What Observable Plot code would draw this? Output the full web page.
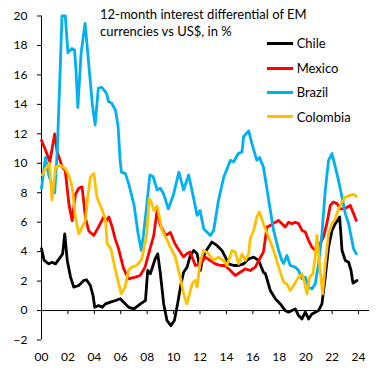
<!DOCTYPE html>
<html>
<head>
<meta charset="utf-8">
<script src="https://cdn.jsdelivr.net/npm/d3@7"></script>
<script src="https://cdn.jsdelivr.net/npm/@observablehq/plot@0.6"></script>
<style>
  body { margin: 0; background: #fff; }
  #wrap { position: relative; width: 384px; height: 375px; font-family: Lato, "Open Sans", sans-serif; color: #000; }
  #title { position: absolute; left: 100px; top: 6px; font-size: 13px; line-height: 17px; white-space: nowrap; }
  .leg { position: absolute; left: 266.7px; height: 18px; display: flex; align-items: center; font-size: 13px; white-space: nowrap; }
  .sw { display: inline-block; width: 26.6px; height: 2.8px; margin-right: 3.4px; }
</style>
</head>
<body>
<div id="wrap">
  <div id="chart"></div>
  <div id="title"></div>
  <div id="legend"></div>
</div>
<script>
const titleLines = ["12-month interest differential of EM", "currencies vs US$, in %"];
const seriesNames = ["Chile", "Mexico", "Brazil", "Colombia"];
const seriesColors = ["#000000", "#FF0000", "#00B0F0", "#FFC000"];
const xTicks = [2000, 2002, 2004, 2006, 2008, 2010, 2012, 2014, 2016, 2018, 2020, 2022, 2024];
const yTicks = [-2, 0, 2, 4, 6, 8, 10, 12, 14, 16, 18, 20];

const chile = [[2000.0,4.2],[2000.2,3.4],[2000.55,3.17],[2000.8,3.28],[2001.06,3.17],[2001.43,3.63],[2001.6,3.85],[2001.76,5.2],[2001.95,3.4],[2002.2,2.27],[2002.44,1.59],[2002.82,1.7],[2003.2,2.04],[2003.4,2.09],[2003.7,1.7],[2003.9,1.02],[2004.03,0.22],[2004.33,0.34],[2004.6,0.22],[2004.84,0.45],[2005.22,0.57],[2005.6,0.68],[2005.97,0.8],[2006.35,0.45],[2006.6,0.22],[2007.0,0.11],[2007.49,0.45],[2007.87,0.68],[2008.04,2.72],[2008.24,2.5],[2008.6,3.5],[2008.8,3.85],[2009.0,2.5],[2009.25,0.45],[2009.5,-0.68],[2009.8,-1.02],[2010.06,-0.68],[2010.3,0.45],[2010.56,1.8],[2010.76,2.6],[2011.02,2.95],[2011.27,3.74],[2011.52,4.08],[2011.78,3.85],[2012.03,2.72],[2012.16,3.4],[2012.4,3.97],[2012.9,4.65],[2013.28,4.42],[2013.66,4.08],[2013.92,3.63],[2014.17,3.17],[2014.55,3.06],[2014.92,3.06],[2015.3,3.17],[2015.68,3.5],[2016.06,3.63],[2016.44,3.4],[2016.8,2.6],[2016.95,2.5],[2017.32,1.36],[2017.7,0.8],[2018.08,0.45],[2018.45,0.0],[2018.7,-0.11],[2018.96,0.0],[2019.21,0.11],[2019.46,-0.34],[2019.72,-0.57],[2019.97,-0.11],[2020.22,-0.57],[2020.47,-0.23],[2020.73,-0.11],[2020.97,0.0],[2021.23,0.45],[2021.48,2.27],[2021.73,4.3],[2021.99,5.44],[2022.24,5.9],[2022.57,6.35],[2022.75,4.08],[2023.0,3.4],[2023.25,3.28],[2023.43,2.72],[2023.58,1.86],[2023.88,2.04]];

const mexico = [[2000.0,11.56],[2000.3,10.9],[2000.63,10.1],[2001.0,12.0],[2001.19,10.77],[2001.57,9.75],[2001.8,9.5],[2002.07,7.26],[2002.32,6.1],[2002.57,7.9],[2002.82,8.3],[2003.07,8.4],[2003.33,6.3],[2003.58,5.4],[2003.96,5.1],[2004.33,5.7],[2004.7,6.35],[2004.94,6.1],[2005.1,6.35],[2005.35,5.67],[2005.6,4.8],[2005.8,4.3],[2006.2,2.9],[2006.58,2.15],[2007.1,2.27],[2007.47,2.38],[2007.84,2.95],[2008.22,4.2],[2008.5,5.1],[2008.75,6.8],[2009.0,5.8],[2009.38,5.1],[2009.76,5.3],[2010.1,4.53],[2010.5,3.97],[2010.75,3.63],[2011.0,3.85],[2011.25,3.97],[2011.65,3.06],[2012.03,3.17],[2012.4,3.63],[2012.78,3.4],[2013.16,3.17],[2013.55,3.06],[2013.9,3.06],[2014.3,2.72],[2014.67,2.38],[2015.05,2.6],[2015.43,2.83],[2015.8,2.72],[2016.18,2.95],[2016.57,3.6],[2016.8,3.97],[2017.07,5.67],[2017.32,5.78],[2017.7,6.0],[2017.95,6.12],[2018.2,5.9],[2018.45,5.67],[2018.7,6.0],[2018.95,5.9],[2019.2,6.0],[2019.46,5.9],[2019.72,5.44],[2019.97,5.33],[2020.22,4.76],[2020.47,4.3],[2020.73,4.08],[2020.97,4.3],[2021.35,5.0],[2021.6,5.9],[2021.86,7.14],[2022.1,7.37],[2022.37,7.26],[2022.62,6.9],[2022.87,6.9],[2023.12,7.0],[2023.37,7.14],[2023.62,6.58],[2023.83,6.12]];

const brazil = [[2000.0,8.3],[2000.3,10.4],[2000.55,9.2],[2000.8,8.5],[2001.0,8.0],[2001.2,11.0],[2001.4,16.0],[2001.55,20.0],[2001.8,20.0],[2002.0,17.5],[2002.3,17.8],[2002.5,17.7],[2002.6,16.5],[2002.75,13.8],[2003.0,17.5],[2003.3,19.5],[2003.6,16.5],[2003.85,14.0],[2004.06,12.6],[2004.3,15.1],[2004.56,15.15],[2004.8,14.9],[2004.94,14.7],[2005.07,14.2],[2005.3,14.1],[2005.6,13.6],[2005.8,12.5],[2005.95,10.2],[2006.05,9.4],[2006.35,9.3],[2006.6,8.6],[2007.0,7.2],[2007.3,5.3],[2007.55,4.1],[2007.7,5.0],[2007.95,7.0],[2008.2,9.2],[2008.45,9.1],[2008.75,8.2],[2009.0,8.3],[2009.25,7.9],[2009.6,6.9],[2010.0,7.9],[2010.4,9.4],[2010.76,8.2],[2011.14,9.2],[2011.5,7.7],[2011.78,6.46],[2012.0,6.8],[2012.28,5.56],[2012.78,5.1],[2013.03,5.44],[2013.4,7.5],[2013.8,9.07],[2014.3,10.2],[2014.55,10.1],[2014.9,10.66],[2015.18,10.77],[2015.3,11.8],[2015.68,12.2],[2015.94,11.3],[2016.3,10.2],[2016.5,10.4],[2016.8,9.75],[2017.2,7.5],[2017.57,5.44],[2017.95,4.08],[2018.2,3.4],[2018.33,3.2],[2018.58,3.74],[2018.83,3.06],[2019.2,2.95],[2019.46,2.72],[2019.72,2.15],[2019.97,2.27],[2020.22,1.59],[2020.47,1.47],[2020.72,1.8],[2020.97,3.17],[2021.23,5.2],[2021.48,8.16],[2021.73,10.2],[2021.99,10.66],[2022.24,9.75],[2022.49,8.8],[2022.75,7.7],[2023.0,6.58],[2023.25,5.9],[2023.5,4.76],[2023.62,4.2],[2023.83,3.85]];

const colombia = [[2000.05,9.2],[2000.3,9.64],[2000.6,9.98],[2000.8,7.5],[2001.06,9.75],[2001.45,9.86],[2001.8,9.64],[2002.07,9.18],[2002.32,8.4],[2002.57,6.35],[2002.82,5.2],[2003.07,5.67],[2003.33,6.12],[2003.5,7.7],[2003.7,9.07],[2003.96,9.3],[2004.2,7.7],[2004.6,6.8],[2004.85,6.12],[2004.97,4.53],[2005.25,4.2],[2005.6,2.72],[2006.03,1.13],[2006.33,1.59],[2006.58,2.72],[2006.83,2.95],[2007.2,3.06],[2007.6,3.5],[2007.97,5.2],[2008.15,7.6],[2008.25,7.5],[2008.5,6.8],[2008.75,7.1],[2009.13,5.44],[2009.5,4.8],[2009.75,4.3],[2010.13,3.63],[2010.5,2.27],[2010.76,1.13],[2011.0,0.45],[2011.4,1.8],[2011.65,2.04],[2011.78,1.59],[2012.03,3.4],[2012.28,4.08],[2012.65,3.85],[2013.03,3.4],[2013.4,3.63],[2013.78,3.4],[2014.04,3.06],[2014.42,4.08],[2014.67,3.97],[2014.92,3.17],[2015.18,3.85],[2015.43,3.4],[2015.68,3.85],[2015.8,4.88],[2016.06,5.44],[2016.3,6.35],[2016.5,6.7],[2016.8,5.9],[2017.2,5.0],[2017.57,4.08],[2017.95,2.95],[2018.33,1.93],[2018.58,1.8],[2018.83,1.36],[2019.08,1.7],[2019.46,2.27],[2019.72,2.5],[2019.9,1.93],[2020.1,1.13],[2020.3,2.27],[2020.55,2.5],[2020.72,3.63],[2020.85,5.1],[2021.05,3.17],[2021.28,1.13],[2021.48,3.17],[2021.73,5.2],[2021.99,5.9],[2022.24,6.24],[2022.49,6.9],[2022.75,7.37],[2023.0,7.7],[2023.37,7.82],[2023.62,7.9],[2023.83,7.75]];

const seriesData = [chile, mexico, brazil, colombia];
const rows = seriesData.flatMap((arr, i) => arr.map(([year, value]) => ({series: seriesNames[i], year, value})));

const chart = Plot.plot({
  width: 384,
  height: 375,
  marginLeft: 41,
  marginRight: 15,
  marginTop: 15.5,
  marginBottom: 35.5,
  style: {fontFamily: "Lato, 'Open Sans', sans-serif", fontSize: "12px", color: "#000", background: "#fff"},
  x: {domain: [2000, 2024.83]},
  y: {domain: [-2, 20]},
  color: {domain: seriesNames, range: seriesColors},
  marks: [
    Plot.axisY({ticks: yTicks, tickSize: 4, tickPadding: 10, label: null, fontSize: 12}),
    Plot.axisX({ticks: xTicks, tickSize: 0, tickPadding: 12, label: null, fontSize: 12,
      tickFormat: d => String(d % 100).padStart(2, "0")}),
    Plot.ruleX([xTicks[0]], {y1: yTicks[0], y2: yTicks[yTicks.length - 1], stroke: "#000", strokeWidth: 1}),
    Plot.ruleY([0], {stroke: "#000", strokeWidth: 1}),
    Plot.ruleX(xTicks.slice(1), {y1: 0, y2: -0.28, stroke: "#000", strokeWidth: 1}),
    Plot.line(rows, {x: "year", y: "value", z: "series", stroke: "series", strokeWidth: 2.8, strokeLinejoin: "round", strokeLinecap: "round"})
  ]
});
document.getElementById("chart").appendChild(chart);

const titleEl = document.getElementById("title");
titleEl.innerHTML = titleLines.map(t => `<div>${t}</div>`).join("");

const legendTops = [43.3, 68.3, 92.3, 116.7];
const legendEl = document.getElementById("legend");
seriesNames.forEach((name, i) => {
  const row = document.createElement("div");
  row.className = "leg";
  row.style.top = (legendTops[i] - 9) + "px";
  row.innerHTML = `<span class="sw" style="background:${seriesColors[i]}"></span><span>${name}</span>`;
  legendEl.appendChild(row);
});
</script>
</body>
</html>
